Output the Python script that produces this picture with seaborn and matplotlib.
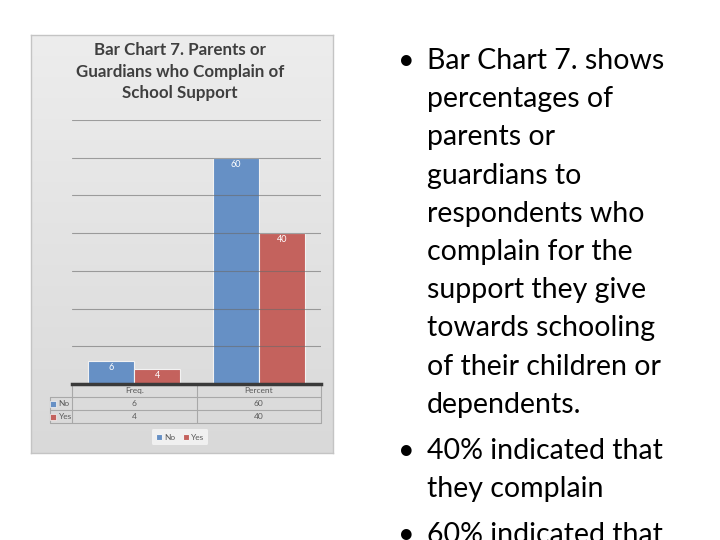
import numpy as np
import pandas as pd
import matplotlib.pyplot as plt
import seaborn as sns
from matplotlib.colors import LinearSegmentedColormap

# -----------------------------
# data
# -----------------------------
categories = ["Freq.", "Percent"]
answers = ["No", "Yes"]
no_values = [6, 60]
yes_values = [4, 40]
bar_colors = ["#6690c5", "#c4625d"]

title_lines = ["Bar Chart 7. Parents or", "Guardians who Complain of", "School Support"]

bullets = [
    ["Bar Chart 7. shows", "percentages of", "parents or", "guardians to",
     "respondents who", "complain for the", "support they give",
     "towards schooling", "of their children or", "dependents."],
    ["40% indicated that", "they complain"],
    ["60% indicated that"],
]

df = pd.DataFrame({
    "category": categories * 2,
    "answer": [answers[0]] * 2 + [answers[1]] * 2,
    "value": no_values + yes_values,
})

sns.set_theme(style="white")
plt.rcParams["font.family"] = ["Lato", "DejaVu Sans"]

W, H = 720, 540
fig = plt.figure(figsize=(7.2, 5.4), dpi=100)
fig.patch.set_facecolor("white")


def fx(px):
    return px / W


def fy(py):
    return 1 - py / H


# grey chart panel
bg = fig.add_axes([fx(31), fy(453), fx(333 - 31), (453 - 35) / H])
grad = np.linspace(0, 1, 256).reshape(-1, 1)
bg.imshow(grad, aspect="auto", extent=[0, 1, 0, 1],
          cmap=LinearSegmentedColormap.from_list("panel", ["#ededed", "#d9d9d9"]))
bg.set_xticks([])
bg.set_yticks([])
for s in bg.spines.values():
    s.set_color("#c4c4c4")
    s.set_linewidth(1)

# title
for i, line in enumerate(title_lines):
    fig.text(fx(180), fy(55 + i * 21.7), line, ha="center", va="baseline",
             fontsize=12.2, fontweight="bold", color="#3f3f3f")

# -----------------------------
# bar chart
# -----------------------------
ax = fig.add_axes([fx(72), fy(384), fx(249), 264 / H])
ax.patch.set_alpha(0)
sns.barplot(data=df, x="category", y="value", hue="answer", order=categories,
            hue_order=answers, palette=bar_colors, saturation=1, width=0.74,
            edgecolor="#f2f2f2", linewidth=0.8, ax=ax)

for cont in ax.containers:
    ax.bar_label(cont, padding=-8, color="white", fontsize=6.5)

ax.set_xlim(-0.5, 1.5)
ax.set_ylim(0, 70)
ax.set_yticks(range(0, 71, 10))
ax.yaxis.grid(True, color="#6a6a6a", linewidth=0.8, alpha=0.6)
ax.set_axisbelow(False)
ax.tick_params(left=False, bottom=False, labelleft=False, labelbottom=False)
ax.set_xlabel("")
ax.set_ylabel("")
for side in ["left", "right", "top"]:
    ax.spines[side].set_visible(False)
ax.spines["bottom"].set_color("#3a3a3a")
ax.spines["bottom"].set_linewidth(2.5)
ax.spines["bottom"].set_zorder(5)

handles, labels = ax.get_legend_handles_labels()
ax.get_legend().remove()

# data table under the axis
row_h = 13 / 264
lab_x = -22 / 249
tc = "#a8a8a8"
for r in range(1, 4):
    ax.plot([lab_x, 1], [-r * row_h, -r * row_h], color=tc, lw=0.8,
            transform=ax.transAxes, clip_on=False)
ax.plot([lab_x, lab_x], [-row_h, -3 * row_h], color=tc, lw=0.8,
        transform=ax.transAxes, clip_on=False)
for xv in [0, 0.5, 1]:
    ax.plot([xv, xv], [0, -3 * row_h], color=tc, lw=0.8,
            transform=ax.transAxes, clip_on=False)

for j, cat in enumerate(categories):
    ax.text(0.25 + 0.5 * j, -0.5 * row_h, cat, ha="center", va="center",
            fontsize=6, color="#595959", transform=ax.transAxes)
    for r, vals in enumerate([no_values, yes_values]):
        ax.text(0.25 + 0.5 * j, -(1.5 + r) * row_h, str(vals[j]), ha="center",
                va="center", fontsize=6, color="#595959", transform=ax.transAxes)

for r, (name, col) in enumerate(zip(answers, bar_colors)):
    ax.plot([lab_x + 0.013], [-(1.5 + r) * row_h], marker="s", markersize=4,
            color=col, markeredgecolor="#f5f5f5", markeredgewidth=0.5,
            transform=ax.transAxes, clip_on=False)
    ax.text(lab_x + 0.034, -(1.5 + r) * row_h, name, ha="left", va="center",
            fontsize=6, color="#595959", transform=ax.transAxes)

fig.legend(handles, labels, loc="center", bbox_to_anchor=(fx(180), fy(437)),
           ncol=2, fontsize=6, handlelength=0.7, handleheight=0.7,
           handletextpad=0.3, columnspacing=0.9, frameon=True,
           facecolor="#f0f0f0", edgecolor="none", framealpha=1,
           labelcolor="#595959", borderpad=0.5)

# -----------------------------
# bullet text on the right
# -----------------------------
baseline = 69
step = 38.2
for k, para in enumerate(bullets):
    fig.text(fx(398), fy(baseline), "\u2022", ha="left", va="baseline",
             fontsize=20.5, color="black")
    for line in para:
        fig.text(fx(427), fy(baseline), line, ha="left", va="baseline",
                 fontsize=20.5, color="black")
        baseline += step
    baseline += 8

fig.savefig("out.png", dpi=100)
